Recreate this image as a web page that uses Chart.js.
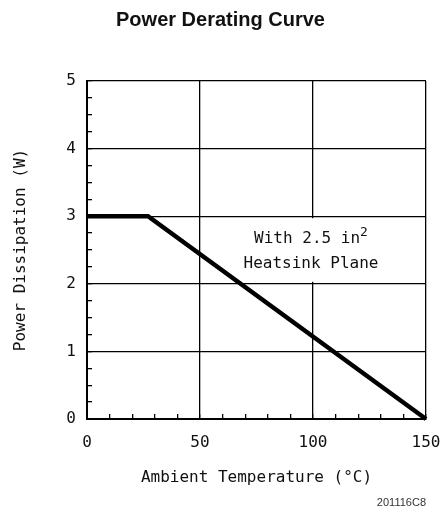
<!DOCTYPE html>
<html lang="en">

<head>
  <meta charset="UTF-8">
  <title>Power Derating Curve</title>
  <script src="https://cdn.jsdelivr.net/npm/chart.js@4.4.1/dist/chart.umd.min.js"></script>
  <style>
    html, body {
      margin: 0;
      padding: 0;
      background: #fff;
    }

    #chart {
      display: block;
    }
  </style>
</head>

<body>
  <canvas id="chart" width="441" height="519"></canvas>

  <script>
    // data
    const ambientTemp = [0, 27, 150];   // °C
    const powerDiss = [3, 3, 0];        // W

    const titleText = 'Power Derating Curve';
    const xTitle = 'Ambient Temperature (°C)';
    const yTitle = 'Power Dissipation (W)';
    const noteLines = ['With 2.5 in', 'Heatsink Plane'];
    const noteSup = '2';
    const figCode = '201116C8';

    const monoFont = "'DejaVu Sans Mono', monospace";

    // annotation box + figure code
    const notesPlugin = {
      id: 'notes',
      afterDatasetsDraw(chart) {
        const { ctx, chartArea, scales } = chart;
        const x = scales.x, y = scales.y;
        const cx = x.getPixelForValue(100) - 2;
        const top = y.getPixelForValue(3);
        const bot = y.getPixelForValue(2);

        ctx.save();
        // white patch hides the 100 gridline behind the text
        ctx.fillStyle = '#fff';
        ctx.fillRect(cx - 62, top + 2, 124, bot - top - 4);

        ctx.fillStyle = '#111';
        ctx.textBaseline = 'middle';

        const l1y = y.getPixelForValue(2.66);
        const l2y = y.getPixelForValue(2.3);
        ctx.font = '16px ' + monoFont;
        const w1 = ctx.measureText(noteLines[0]).width;
        ctx.font = '13px ' + monoFont;
        const wSup = ctx.measureText(noteSup).width;
        const start = cx - (w1 + wSup) / 2;
        ctx.textAlign = 'left';
        ctx.font = '16px ' + monoFont;
        ctx.fillText(noteLines[0], start, l1y);
        ctx.font = '13px ' + monoFont;
        ctx.fillText(noteSup, start + w1, l1y - 7);

        ctx.font = '16px ' + monoFont;
        ctx.textAlign = 'center';
        ctx.fillText(noteLines[1], cx, l2y);

        // figure code bottom right
        ctx.font = '11px "Liberation Sans", Arial, sans-serif';
        ctx.fillStyle = '#333';
        ctx.textAlign = 'right';
        ctx.fillText(figCode, chartArea.right, 503);
        ctx.restore();
      }
    };

    new Chart(document.getElementById('chart'), {
      type: 'scatter',
      data: {
        datasets: [{
          data: ambientTemp.map((t, i) => ({ x: t, y: powerDiss[i] })),
          showLine: true,
          borderColor: '#000',
          borderWidth: 4.5,
          borderJoinStyle: 'miter',
          pointRadius: 0,
          clip: 8
        }]
      },
      options: {
        responsive: false,
        animation: false,
        layout: {
          padding: { left: 0, right: 0, top: 0, bottom: 25 }
        },
        scales: {
          x: {
            type: 'linear',
            min: 0,
            max: 150,
            afterFit: s => { s.height = 75; s.paddingLeft = 0; s.paddingRight = 15; },
            ticks: {
              stepSize: 10,
              autoSkip: false,
              maxRotation: 0,
              padding: 19,
              color: '#111',
              font: { family: monoFont, size: 16 },
              callback: v => (v % 50 === 0 ? v : '')
            },
            grid: {
              color: c => (c.tick && c.tick.value % 50 === 0 ? '#000' : 'rgba(0,0,0,0)'),
              lineWidth: 1.3,
              tickColor: '#000',
              tickLength: -5,
              tickWidth: 1.3
            },
            border: { color: '#000', width: 2 },
            title: {
              display: true,
              text: xTitle,
              color: '#111',
              font: { family: monoFont, size: 16 },
              padding: { top: 0, bottom: 7 }
            }
          },
          y: {
            min: 0,
            max: 5,
            afterFit: s => { s.width = 87; },
            ticks: {
              stepSize: 0.25,
              autoSkip: false,
              padding: 16,
              color: '#111',
              font: { family: monoFont, size: 16 },
              callback: v => (Number.isInteger(v) ? v : '')
            },
            grid: {
              color: c => (c.tick && Number.isInteger(c.tick.value) ? '#000' : 'rgba(0,0,0,0)'),
              lineWidth: 1.3,
              tickColor: '#000',
              tickLength: -5,
              tickWidth: 1.3
            },
            border: { color: '#000', width: 2 },
            title: {
              display: true,
              text: yTitle,
              color: '#111',
              font: { family: monoFont, size: 16 },
              padding: { top: 11, bottom: 0 }
            }
          }
        },
        plugins: {
          legend: { display: false },
          tooltip: { enabled: false },
          title: {
            display: true,
            text: titleText,
            color: '#111',
            font: { family: "'Liberation Sans', Arial, sans-serif", size: 20, weight: 'bold' },
            padding: { top: 8, bottom: 49 }
          }
        }
      },
      plugins: [notesPlugin]
    });
  </script>
</body>

</html>
